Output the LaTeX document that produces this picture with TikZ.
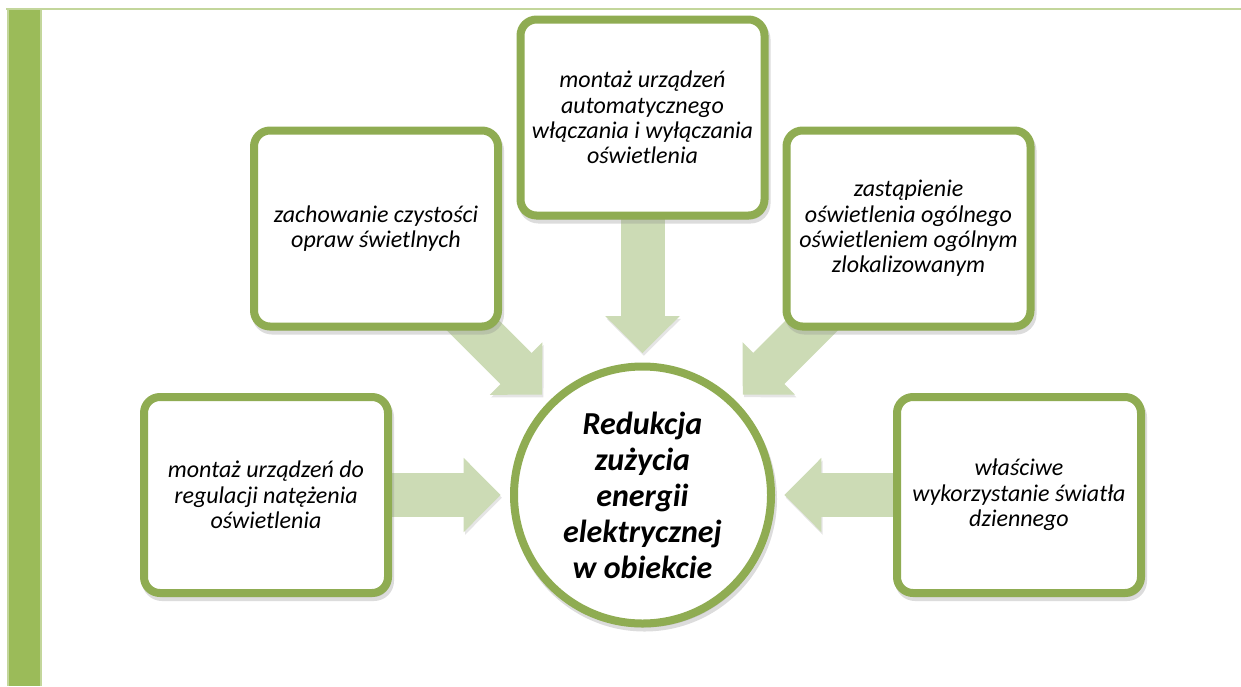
\documentclass[tikz,border=0pt]{standalone}
\usepackage{fontspec}
\setmainfont{Carlito}
\usetikzlibrary{positioning,arrows.meta,backgrounds}

\definecolor{framegreen}{HTML}{8FAC52}
\definecolor{arrowgreen}{HTML}{CCDBB5}
\definecolor{bargreen}{HTML}{9BBB59}
\definecolor{palegreen}{HTML}{C3D69B}

\begin{document}
\begin{tikzpicture}[
		x=0.75pt, y=-0.75pt,
		node distance=88.5pt,
		every node/.style={font=\fontsize{18}{19}\selectfont\itshape},
		softshadow/.style={
				preaction={draw=black!45, fill=black!45, opacity=0.3,
						transform canvas={shift={(1.5pt,-3pt)}}}
			},
		measure/.style={
				draw=framegreen,
				fill=white,
				rectangle,
				rounded corners=12pt,
				line width=6pt,
				minimum width=183pt,
				minimum height=147pt,
				align=center,
				inner sep=4pt,
				softshadow
			},
		goalcircle/.style={
				draw=framegreen,
				fill=white,
				circle,
				line width=6pt,
				minimum size=192.75pt,
				inner sep=0pt,
				align=center,
				softshadow,
				font=\fontsize{24}{27}\selectfont\bfseries\itshape
			},
		push/.style={
				draw=arrowgreen,
				line width=33pt,
				-{Triangle[length=27.75pt,width=54pt]},
				shorten >=7pt,
				preaction={draw=black, opacity=0.1,
						transform canvas={shift={(1pt,-2pt)}}}
			}
	]
	\useasboundingbox (0,0) rectangle (1241,686);

	% Page frame: left bar and top rule
	\fill[palegreen] (6,8) rectangle (1241,10);
	\fill[palegreen] (7,10) rectangle (42,686);
	\fill[bargreen] (8.5,10) rectangle (40,686);

	% Goal in the middle
	\node[goalcircle] (goal) at (642.5,495) {
		Redukcja\\zużycia\\energii\\elektrycznej\\w obiekcie
	};

	% Measures around it
	\node[measure, left=of goal] (lbox) {
		montaż urządzeń do\\regulacji natężenia\\oświetlenia
	};
	\node[measure, right=of goal] (rbox) {
		właściwe\\wykorzystanie światła\\dziennego
	};
	\node[measure, above=107.25pt of goal] (tbox) {
		montaż urządzeń\\automatycznego\\włączania i wyłączania\\oświetlenia
	};
	\node[measure] (tlbox) at (376,228.5) {
		zachowanie czystości\\opraw świetlnych
	};
	\node[measure] (trbox) at (908.5,228.5) {
		zastąpienie\\oświetlenia ogólnego\\oświetleniem ogólnym\\zlokalizowanym
	};

	% Block arrows towards the goal
	\begin{scope}[on background layer]
		\foreach \src in {lbox, tlbox, tbox, trbox, rbox} {
				\draw[push] (\src.center) -- (goal);
			}
	\end{scope}
\end{tikzpicture}
\end{document}
